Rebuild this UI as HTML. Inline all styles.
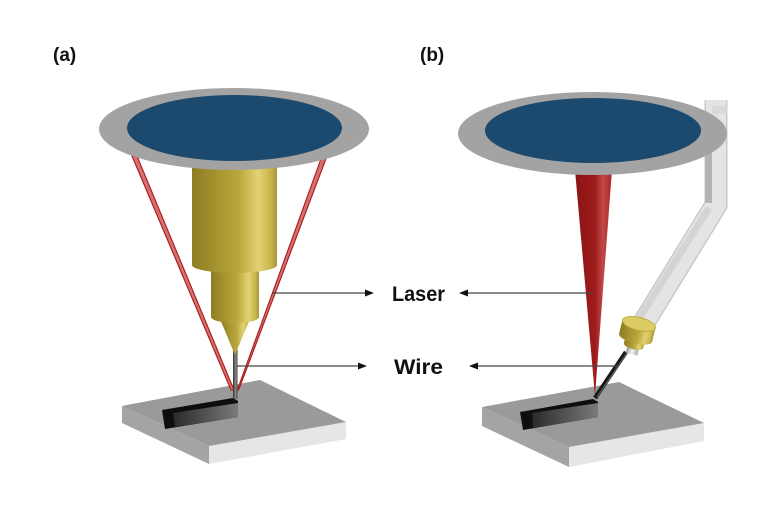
<!DOCTYPE html>
<html><head><meta charset="utf-8"><style>
html,body{margin:0;padding:0;background:#fff;}
svg{display:block;}
text{font-family:"Liberation Sans",sans-serif;font-weight:bold;fill:#111;}
</style></head><body>
<svg width="784" height="513" viewBox="0 0 784 513" xmlns="http://www.w3.org/2000/svg">
<defs>
<linearGradient id="gold" x1="0" y1="0" x2="1" y2="0">
<stop offset="0" stop-color="#8e7d22"/><stop offset="0.3" stop-color="#a69430"/>
<stop offset="0.55" stop-color="#baa73c"/><stop offset="0.78" stop-color="#e2d274"/>
<stop offset="0.92" stop-color="#c9b64c"/><stop offset="1" stop-color="#a8963a"/>
</linearGradient>
<linearGradient id="cone" x1="0" y1="0" x2="1" y2="0">
<stop offset="0" stop-color="#8c1414"/><stop offset="0.55" stop-color="#9e1c1c"/>
<stop offset="0.75" stop-color="#c24848"/><stop offset="1" stop-color="#a82626"/>
</linearGradient>
<linearGradient id="bead" x1="0" y1="0" x2="1" y2="0">
<stop offset="0" stop-color="#2a2a2a"/><stop offset="1" stop-color="#7a7a7a"/>
</linearGradient>
<linearGradient id="wireg" x1="0" y1="0" x2="1" y2="0">
<stop offset="0" stop-color="#333"/><stop offset="0.6" stop-color="#888"/><stop offset="1" stop-color="#444"/>
</linearGradient>
<linearGradient id="silver" x1="0" y1="0" x2="1" y2="0">
<stop offset="0" stop-color="#999"/><stop offset="0.5" stop-color="#f4f4f4"/><stop offset="1" stop-color="#aaa"/>
</linearGradient>
</defs>

<!-- (a) plate -->
<polygon points="122,406 209,446 209,464 122,423" fill="#a4a4a4"/>
<polygon points="209,446 346,422 346,439 209,464" fill="#e6e6e6"/>
<polygon points="122,406 260,380 346,422 209,446" fill="#9a9a9a"/>
<polygon points="162,410 233,398 238,401 238,417 165,429" fill="#0e0e0e"/>
<polygon points="173,413 238,403 238,417 175,427" fill="url(#bead)"/>

<!-- (a) beams -->
<polygon points="132,156 137,156 234,390 231,390" fill="#d67070" stroke="#a81a1a" stroke-width="1.1"/>
<polygon points="322,156 327,156 239,389 237,391" fill="#d67070" stroke="#a81a1a" stroke-width="1.1"/>

<!-- (a) wire -->
<rect x="233" y="348" width="4.5" height="51" fill="url(#wireg)"/>

<!-- (a) nozzle -->
<path d="M220,319 A15,4 0 0 0 250,319 L235,355 Z" fill="url(#gold)"/>
<path d="M211,262 H259 V317 A24,6 0 0 1 211,317 Z" fill="url(#gold)"/>
<path d="M192,150 H277 V265 A42.5,8 0 0 1 192,265 Z" fill="url(#gold)"/>

<!-- (a) disc -->
<ellipse cx="234" cy="129" rx="135" ry="41" fill="#a3a3a3"/>
<ellipse cx="234.5" cy="128" rx="107.5" ry="33" fill="#1b4a6e"/>

<!-- (b) plate -->
<polygon points="482,407 569,447 569,467 482,426" fill="#a4a4a4"/>
<polygon points="569,447 704,423 704,441 569,467" fill="#e6e6e6"/>
<polygon points="482,407 619,382 704,423 569,447" fill="#9a9a9a"/>
<polygon points="520,412 593,399 598,402 598,417 523,430" fill="#0e0e0e"/>
<polygon points="532,413 598,403 598,417 533,428" fill="url(#bead)"/>

<!-- (b) cone -->
<polygon points="575,170 612,170 595,396" fill="url(#cone)"/>

<!-- (b) tube -->
<polyline points="716,100 716,205 643,324" fill="none" stroke="#c9c9c9" stroke-width="23" stroke-linejoin="miter"/>
<polyline points="716,100 716,205 643,324" fill="none" stroke="#e4e4e4" stroke-width="20" stroke-linejoin="miter"/>
<polyline points="708.5,140 708.5,203" fill="none" stroke="#b4b4b4" stroke-width="7"/>
<polyline points="709,208 637,322" fill="none" stroke="#d4d4d4" stroke-width="7"/>
<rect x="712" y="106" width="15" height="8" fill="#d8d8d8"/>

<!-- (b) wire -->
<line x1="626" y1="352" x2="595" y2="398" stroke="#1a1a1a" stroke-width="4.5"/>
<line x1="627" y1="353" x2="597" y2="397" stroke="#666" stroke-width="1"/>

<!-- (b) collar -->
<g transform="translate(639,324) rotate(14)">
<rect x="-6" y="20" width="12" height="11" fill="url(#silver)"/>
<path d="M-10,12 H10 V22 A10,4 0 0 1 -10,22 Z" fill="url(#gold)"/>
<path d="M-17,0 H17 V14 A17,6 0 0 1 -17,14 Z" fill="url(#gold)"/>
<ellipse cx="0" cy="0" rx="17" ry="6.5" fill="#dccb62" stroke="#b8a640" stroke-width="0.8"/>
</g>

<!-- (b) disc -->
<ellipse cx="592.5" cy="133.5" rx="134.5" ry="41.5" fill="#a3a3a3"/>
<ellipse cx="593" cy="130.5" rx="108" ry="32.5" fill="#1b4a6e"/>

<!-- arrows -->
<g stroke="#444" stroke-width="1.2">
<line x1="272" y1="293" x2="366" y2="293"/>
<line x1="467" y1="293" x2="593" y2="293"/>
<line x1="237" y1="366" x2="359" y2="366"/>
<line x1="477" y1="366" x2="618" y2="366"/>
</g>
<g fill="#111">
<polygon points="374,293 365,289.5 365,296.5"/>
<polygon points="459,293 468,289.5 468,296.5"/>
<polygon points="367,366 358,362.5 358,369.5"/>
<polygon points="469,366 478,362.5 478,369.5"/>
</g>

<!-- labels -->
<text x="53" y="61" font-size="19">(a)</text>
<text x="420" y="61" font-size="19">(b)</text>
<text x="392" y="301" font-size="21" textLength="53" lengthAdjust="spacingAndGlyphs">Laser</text>
<text x="394" y="374" font-size="21" textLength="49" lengthAdjust="spacingAndGlyphs">Wire</text>
</svg>
</body></html>
